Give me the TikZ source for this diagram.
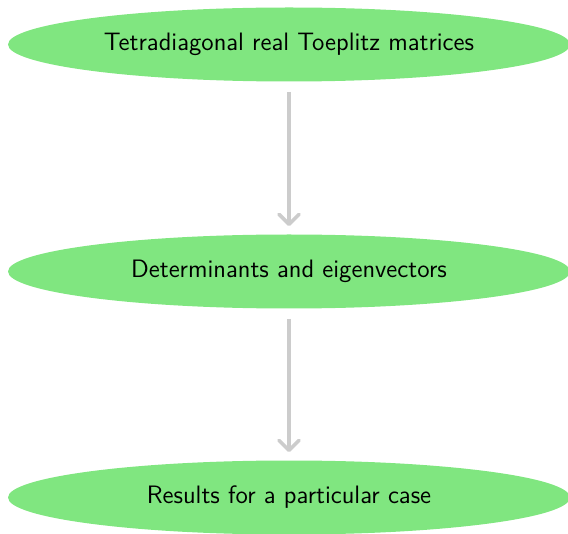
\documentclass[tikz,border=0pt]{standalone}
\usetikzlibrary{shapes.geometric,arrows.meta}
\definecolor{nodegreen}{RGB}{128,230,128}
\definecolor{arrowgray}{RGB}{204,204,204}
\tikzset{
  topic/.style={ellipse, fill=nodegreen, draw=none, minimum width=281pt, minimum height=37pt, inner sep=0pt, font=\sffamily\fontsize{12.6}{15}\selectfont, text=black},
  flow/.style={draw=arrowgray, line width=1.8pt, -{Straight Barb[length=5pt,width=10pt,round]}, shorten <=5pt, shorten >=4pt}
}
\begin{document}
\begin{tikzpicture}[x=0.5pt,y=-0.5pt]
\useasboundingbox (0,0) rectangle (568,534);
\node[topic] (a) at (289,44.5) {Tetradiagonal real Toeplitz matrices};
\node[topic] (b) at (289,271.5) {Determinants and eigenvectors};
\node[topic] (c) at (289,497.5) {Results for a particular case};
\draw[flow] (a) -- (b);
\draw[flow] (b) -- (c);
\end{tikzpicture}
\end{document}
